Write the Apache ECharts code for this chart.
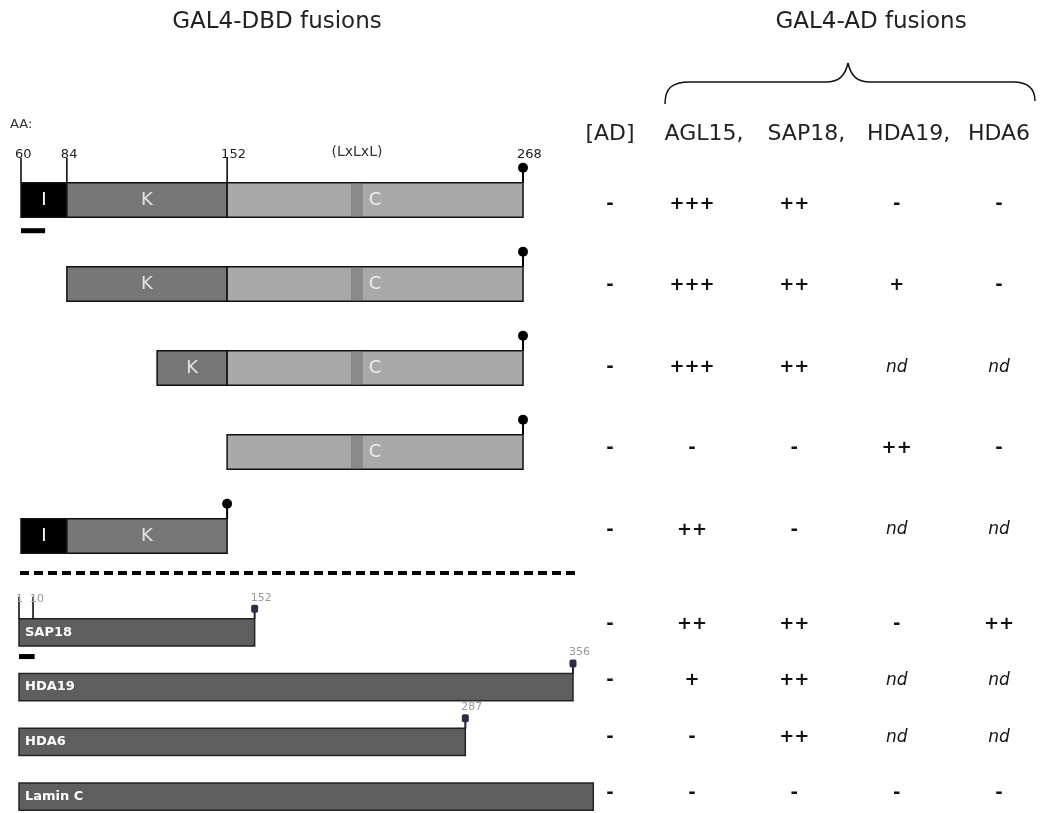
<!DOCTYPE html>
<html><head><meta charset="utf-8">
<script src="https://cdn.jsdelivr.net/npm/echarts@6/dist/echarts.min.js"></script>
<style>html,body{margin:0;padding:0;background:#fff}#c{width:1042px;height:813px}</style>
</head><body><div id="c"></div>
<script>
// ================= DATA =================
// GAL4-DBD fusions of AGL15 (x in amino-acid units as drawn)
// [constructRow, startAA, endAA, domain]
const dbdSegments = [
  [0, 60, 79, 'I'], [0, 79, 145.4, 'K'], [0, 145.4, 268, 'C'],
  [1, 79, 145.4, 'K'], [1, 145.4, 268, 'C'],
  [2, 116.4, 145.4, 'K'], [2, 145.4, 268, 'C'],
  [3, 145.4, 268, 'C'],
  [4, 60, 79, 'I'], [4, 79, 145.4, 'K']
];
const motifAA = [196.7, 201.7];            // (LxLxL) motif
const dbdEnds = [[0, 268], [1, 268], [2, 268], [3, 268], [4, 145.4]];
const dbdTicksAA = [60, 79, 145.4];
const dbdTickLabels = [[60, '60'], [79, '84'], [145.4, '152'], [268, '268']];
const motifLabel = '(LxLxL)';
const scaleBarAA = 10;

// GAL4-DBD fusions of interacting proteins
const preyProteins = ['SAP18', 'HDA19', 'HDA6', 'Lamin C'];
const preyLengthAA = [152, 356, 287, 369];
const preyEndLabels = ['152', '356', '287', null];
const sap18TicksAA = [[1, '1'], [10, '10']];

// Yeast two-hybrid results (rows: 5 AGL15 constructs, then SAP18, HDA19, HDA6, Lamin C)
const adColumn = ['[AD]'];
const adPartners = ['AGL15', 'SAP18', 'HDA19', 'HDA6'];
const resAD    = ['-', '-', '-', '-', '-', '-', '-', '-', '-'];
const resAGL15 = ['+++', '+++', '+++', '-', '++', '++', '+', '-', '-'];
const resSAP18 = ['++', '++', '++', '-', '-', '++', '++', '++', '-'];
const resHDA19 = ['-', '+', 'nd', '++', 'nd', '-', 'nd', 'nd', '-'];
const resHDA6  = ['-', '-', 'nd', '-', 'nd', '++', 'nd', 'nd', '-'];

// ================= STYLE =================
const FONT = 'DejaVu Sans';
const domainFill = { I: '#000000', K: '#777777', C: '#a9a9a9' };
const domainText = { I: '#ffffff', K: '#e4e4e4', C: '#efefef' };

const chart = echarts.init(document.getElementById('c'), null, { renderer: 'canvas' });

function txt(x, y, text, o) {
  o = o || {};
  return {
    type: 'text', x: x, y: y,
    style: Object.assign({
      text: text, fill: '#222', fontSize: 13, fontFamily: FONT,
      align: o.align || 'center', verticalAlign: 'middle',
      textAlign: o.align || 'center', textVerticalAlign: 'middle'
    }, o.style || {})
  };
}

function dbdSegItem(params, api) {
  const seg = dbdSegments[params.dataIndex];
  const p0 = api.coord([seg[1], seg[0]]);
  const p1 = api.coord([seg[2], seg[0]]);
  const h = api.size([0, 1])[1] * 0.41;
  const ch = [{
    type: 'rect',
    shape: { x: p0[0], y: p0[1] - h / 2, width: p1[0] - p0[0], height: h },
    style: { fill: domainFill[seg[3]], stroke: '#111', lineWidth: 1.5 }
  }];
  if (seg[3] === 'C') {
    const m0 = api.coord([motifAA[0], seg[0]]), m1 = api.coord([motifAA[1], seg[0]]);
    ch.push({ type: 'rect', shape: { x: m0[0], y: p0[1] - h / 2 + 1, width: m1[0] - m0[0], height: h - 2 },
      style: { fill: '#8a8a8a' } });
  }
  ch.push(txt((p0[0] + p1[0]) / 2, p0[1], seg[3], { style: { fill: domainText[seg[3]], fontSize: 18 } }));
  return { type: 'group', children: ch };
}

function dbdEndItem(params, api) {
  const d = dbdEnds[params.dataIndex];
  const p = api.coord([d[1], d[0]]);
  const h = api.size([0, 1])[1] * 0.41;
  const top = p[1] - h / 2;
  return { type: 'group', children: [
    { type: 'line', shape: { x1: p[0], y1: top, x2: p[0], y2: top - 14 }, style: { stroke: '#000', lineWidth: 2 } },
    { type: 'circle', shape: { cx: p[0], cy: top - 15, r: 5 }, style: { fill: '#000' } }
  ] };
}

function dbdTickItem(params, api) {
  const aa = dbdTicksAA[params.dataIndex];
  const p = api.coord([aa, 0]);
  const h = api.size([0, 1])[1] * 0.41;
  const top = p[1] - h / 2;
  return { type: 'line', shape: { x1: p[0], y1: top, x2: p[0], y2: top - 25 }, style: { stroke: '#000', lineWidth: 1.5 } };
}

function dbdLabelItem(params, api) {
  const l = dbdTickLabels[params.dataIndex];
  const p = api.coord([l[0], 0]);
  const h = api.size([0, 1])[1] * 0.41;
  const top = p[1] - h / 2;
  return txt(p[0] - 6, top - 28, l[1], { align: 'left', style: { fontSize: 13, fill: '#222' } });
}

function motifLabelItem(params, api) {
  const p = api.coord([(motifAA[0] + motifAA[1]) / 2, 0]);
  const h = api.size([0, 1])[1] * 0.41;
  return txt(p[0], p[1] - h / 2 - 30, motifLabel, { style: { fontSize: 14, fill: '#333' } });
}

function scaleItemTop(params, api) {
  const p0 = api.coord([60, 0]), p1 = api.coord([60 + scaleBarAA, 0]);
  const h = api.size([0, 1])[1] * 0.41;
  return { type: 'rect', shape: { x: p0[0], y: p0[1] + h / 2 + 11, width: p1[0] - p0[0], height: 5 }, style: { fill: '#000' } };
}

function preyBarItem(params, api) {
  const i = params.dataIndex;
  const p0 = api.coord([1, i]), p1 = api.coord([preyLengthAA[i], i]);
  const h = api.size([0, 1])[1] * 0.5;
  const top = p0[1] - h / 2;
  const ch = [{
    type: 'rect', shape: { x: p0[0], y: top, width: p1[0] - p0[0], height: h },
    style: { fill: '#5e5e5e', stroke: '#222', lineWidth: 1.5 }
  }, txt(p0[0] + 6, p0[1], preyProteins[i], { align: 'left', style: { fill: '#ffffff', fontSize: 13, fontWeight: 'bold' } })];
  if (preyEndLabels[i]) {
    ch.push({ type: 'line', shape: { x1: p1[0], y1: top, x2: p1[0], y2: top - 8 }, style: { stroke: '#222', lineWidth: 2 } });
    ch.push({ type: 'rect', shape: { x: p1[0] - 3.5, y: top - 14, width: 7, height: 8, r: 2 }, style: { fill: '#2c2c48' } });
    ch.push(txt(p1[0] - 4, top - 21, preyEndLabels[i], { align: 'left', style: { fontSize: 11, fill: '#999' } }));
  }
  if (i === 0) {
    sap18TicksAA.forEach(function (t) {
      const q = api.coord([t[0], 0]);
      ch.push({ type: 'line', shape: { x1: q[0], y1: top, x2: q[0], y2: top - 22 }, style: { stroke: '#000', lineWidth: 1.5 } });
      ch.push(txt(q[0] - 3, top - 20, t[1], { align: 'left', style: { fontSize: 11, fill: '#999' } }));
    });
    const s0 = api.coord([1, 0]), s1 = api.coord([1 + scaleBarAA, 0]);
    ch.push({ type: 'rect', shape: { x: s0[0], y: p0[1] + h / 2 + 8, width: s1[0] - s0[0], height: 5 }, style: { fill: '#000' } });
  }
  return { type: 'group', children: ch };
}

function tableItem(rows) {
  return function (params, api) {
    const d = rows[params.dataIndex];
    const p = api.coord([d[0], d[1]]);
    const nd = d[2] === 'nd';
    return txt(p[0], p[1], d[2], { style: {
      fill: '#111', fontSize: nd ? 17 : 18, fontWeight: nd ? 'normal' : 'bold',
      fontStyle: nd ? 'italic' : 'normal' } });
  };
}

const preyCols = [resAGL15, resSAP18, resHDA19, resHDA6];
function buildRows(cols, r0, r1) {
  const out = [];
  cols.forEach(function (col, c) {
    for (let r = r0; r < r1; r++) out.push([c, r - r0, col[r]]);
  });
  return out;
}
const tAdTop = buildRows([resAD], 0, 5), tAdBot = buildRows([resAD], 5, 9);
const tPreyTop = buildRows(preyCols, 0, 5), tPreyBot = buildRows(preyCols, 5, 9);
const numData = function (arr) { return arr.map(function (d) { return [d[0], d[1]]; }); };

const catX = function (data, gi, gap, header) {
  return {
    type: 'category', gridIndex: gi, data: data, position: 'top', boundaryGap: gap,
    axisLine: { show: false }, axisTick: { show: false }, splitLine: { show: false },
    axisLabel: header ? Object.assign({ show: true, interval: 0, hideOverlap: false, fontSize: 22, fontFamily: FONT, color: '#222', margin: 18 }, header) : { show: false }
  };
};
const valY = function (gi, min, max) {
  return { type: 'value', gridIndex: gi, min: min, max: max, inverse: true, show: false };
};

const braceStyle = { stroke: '#111', lineWidth: 1.5, fill: null };
const headerRich = {
  c: { padding: [0, 0, 0, 24], fontSize: 22, fontFamily: FONT, color: '#222' },
  n: { fontSize: 22, fontFamily: FONT, color: '#222' }
};

chart.setOption({
  animation: false,
  grid: [
    { left: 21, width: 502, top: 158, height: 420 },          // 0 DBD AGL15 constructs
    { left: 19, width: 554, top: 605, height: 208 },          // 1 DBD other proteins
    { left: 590, width: 40, top: 163.7, height: 407 },        // 2 [AD] top
    { left: 590, width: 40, top: 596.2, height: 216.8 },      // 3 [AD] bottom
    { left: 692, width: 307, top: 163.7, height: 407 },       // 4 AD fusions top
    { left: 692, width: 307, top: 596.2, height: 216.8 }      // 5 AD fusions bottom
  ],
  xAxis: [
    { type: 'value', gridIndex: 0, min: 60, max: 268, show: false },
    { type: 'value', gridIndex: 1, min: 1, max: 356, show: false },
    catX(adColumn, 2, true, {}),
    catX(adColumn, 3, true, null),
    catX(adPartners, 4, false, { rich: headerRich, formatter: function (v, i) { return i < adPartners.length - 1 ? '{c|' + v + ',}' : '{n|' + v + '}'; } }),
    catX(adPartners, 5, false, null)
  ],
  yAxis: [valY(0, -0.5, 4.5), valY(1, -0.5, 3.3), valY(2, -0.5, 4.5), valY(3, -0.5, 3.344), valY(4, -0.5, 4.5), valY(5, -0.5, 3.344)],
  graphic: [
    { type: 'text', x: 277, y: 22, style: { text: 'GAL4-DBD fusions', fontSize: 23, fontFamily: FONT, fill: '#222',
      align: 'center', verticalAlign: 'middle', textAlign: 'center', textVerticalAlign: 'middle' } },
    { type: 'text', x: 871, y: 22, style: { text: 'GAL4-AD fusions', fontSize: 23, fontFamily: FONT, fill: '#222',
      align: 'center', verticalAlign: 'middle', textAlign: 'center', textVerticalAlign: 'middle' } },
    { type: 'text', x: 10, y: 125, style: { text: 'AA:', fontSize: 13, fontFamily: FONT, fill: '#333',
      align: 'left', verticalAlign: 'middle', textAlign: 'left', textVerticalAlign: 'middle' } },
    { type: 'line', shape: { x1: 20, y1: 573, x2: 578, y2: 573 }, style: { stroke: '#000', lineWidth: 4, lineDash: [9, 5] } },
    { type: 'bezierCurve', shape: { x1: 665, y1: 104, cpx1: 665, cpy1: 88, cpx2: 672, cpy2: 82, x2: 690, y2: 82 }, style: braceStyle },
    { type: 'line', shape: { x1: 690, y1: 82, x2: 826, y2: 82 }, style: braceStyle },
    { type: 'bezierCurve', shape: { x1: 826, y1: 82, cpx1: 839, cpy1: 82, cpx2: 845, cpy2: 76, x2: 848, y2: 63 }, style: braceStyle },
    { type: 'bezierCurve', shape: { x1: 848, y1: 63, cpx1: 851, cpy1: 76, cpx2: 857, cpy2: 82, x2: 870, y2: 82 }, style: braceStyle },
    { type: 'line', shape: { x1: 870, y1: 82, x2: 1013, y2: 82 }, style: braceStyle },
    { type: 'bezierCurve', shape: { x1: 1013, y1: 82, cpx1: 1030, cpy1: 82, cpx2: 1035, cpy2: 90, x2: 1035, y2: 101 }, style: braceStyle }
  ],
  series: [
    { type: 'custom', xAxisIndex: 0, yAxisIndex: 0, renderItem: dbdSegItem, data: dbdSegments.map(function (s) { return [s[1], s[0], s[2]]; }) },
    { type: 'custom', xAxisIndex: 0, yAxisIndex: 0, renderItem: dbdTickItem, data: dbdTicksAA.map(function (a) { return [a, 0]; }) },
    { type: 'custom', xAxisIndex: 0, yAxisIndex: 0, renderItem: dbdEndItem, data: dbdEnds.map(function (d) { return [d[1], d[0]]; }) },
    { type: 'custom', xAxisIndex: 0, yAxisIndex: 0, renderItem: dbdLabelItem, data: dbdTickLabels.map(function (l) { return [l[0], 0]; }) },
    { type: 'custom', xAxisIndex: 0, yAxisIndex: 0, renderItem: motifLabelItem, data: [[motifAA[0], 0]] },
    { type: 'custom', xAxisIndex: 0, yAxisIndex: 0, renderItem: scaleItemTop, data: [[60, 0]] },
    { type: 'custom', xAxisIndex: 1, yAxisIndex: 1, renderItem: preyBarItem, data: preyLengthAA.map(function (l, i) { return [l, i]; }) },
    { type: 'custom', xAxisIndex: 2, yAxisIndex: 2, renderItem: tableItem(tAdTop), data: numData(tAdTop) },
    { type: 'custom', xAxisIndex: 3, yAxisIndex: 3, renderItem: tableItem(tAdBot), data: numData(tAdBot) },
    { type: 'custom', xAxisIndex: 4, yAxisIndex: 4, renderItem: tableItem(tPreyTop), data: numData(tPreyTop) },
    { type: 'custom', xAxisIndex: 5, yAxisIndex: 5, renderItem: tableItem(tPreyBot), data: numData(tPreyBot) }
  ]
});
</script>
</body></html>
